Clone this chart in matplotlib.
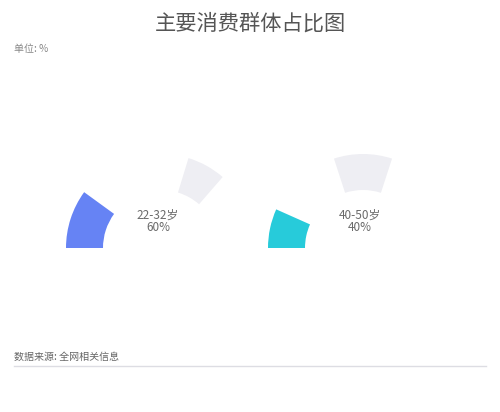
import matplotlib.pyplot as plt
from matplotlib.patches import Wedge

plt.rcParams['font.family'] = ['Noto Sans CJK SC', 'DejaVu Sans']

# data
groups = ["22-32岁", "40-50岁"]
shares = [60, 40]
title = "主要消费群体占比图"
unit = "单位: %"
source = "数据来源: 全网相关信息"

colors = ["#6683F4", "#27CBDA"]
rest_color = "#EEEEF3"
centers_x = [161, 363]
center_y = 412 - 248
rest_start = [49, 72]          # where the grey remainder sector begins (deg)
deg_per_pct = 0.6              # sector sweep per percent, as drawn in the source
r_out, r_in = 95, 58

fig = plt.figure(figsize=(5, 4.12), dpi=100)
ax = fig.add_axes([0, 0, 1, 1])
ax.set_xlim(0, 500)
ax.set_ylim(0, 412)
ax.axis("off")

for cx, g, v, c, rs in zip(centers_x, groups, shares, colors, rest_start):
    sweep = v * deg_per_pct
    ax.add_patch(Wedge((cx, center_y), r_out, 180 - sweep, 180,
                       width=r_out - r_in, facecolor=c, edgecolor="none"))
    rest = (100 - v) * deg_per_pct
    ax.add_patch(Wedge((cx, center_y), r_out - 1, rs, rs + rest,
                       width=r_out - r_in - 1, facecolor=rest_color, edgecolor="none"))
    ax.text(cx - 3, 412 - 221, f"{g}\n{v}%", ha="center", va="center",
            fontsize=8.5, color="#6a6a6a", linespacing=0.95)

fig.text(0.5, 1 - 24 / 412, title, ha="center", va="center", fontsize=15.3, color="#555555")
fig.text(14 / 500, 1 - 49 / 412, unit, ha="left", va="center", fontsize=7.2, color="#888888")
fig.text(14 / 500, 1 - 357 / 412, source, ha="left", va="center", fontsize=7.2, color="#666666")
ax.plot([14, 486], [412 - 366, 412 - 366], color="#DDDDE3", linewidth=1)

fig.savefig("out.png", dpi=100, facecolor="white")
